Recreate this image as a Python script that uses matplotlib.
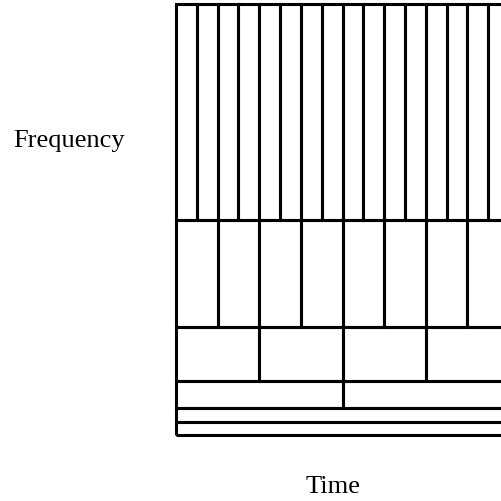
import matplotlib
matplotlib.use('Agg')
from matplotlib import pyplot as plt
import numpy as np

# dyadic time-frequency tiling, top band first
band_bottom = [16, 8, 4, 2, 1, 0]
band_height = [16, 8, 4, 2, 1, 1]
band_cells = [16, 8, 4, 2, 1, 1]
time_span = 16

fig = plt.figure(figsize=(5.01, 5.02), dpi=100)
# right edge of the diagram runs off the picture, as in the scan
ax = fig.add_axes([176/501, 66/502, 333/501, 431/502])

for b, h, n in zip(band_bottom, band_height, band_cells):
    w = time_span / n
    left = np.arange(n) * w
    ax.bar(left, h, width=w, bottom=b, align='edge', fill=False,
           edgecolor='black', linewidth=2.2, clip_on=False)

ax.set_xlim(0, time_span)
ax.set_ylim(0, 32)
ax.axis('off')

fig.text(13/501, 1 - 141/502, 'Frequency', family='Liberation Serif',
         fontsize=19, ha='left', va='center')
fig.text(333/501, 1 - 487/502, 'Time', family='Liberation Serif',
         fontsize=19, ha='center', va='center')

plt.savefig('out.png', dpi=100)
